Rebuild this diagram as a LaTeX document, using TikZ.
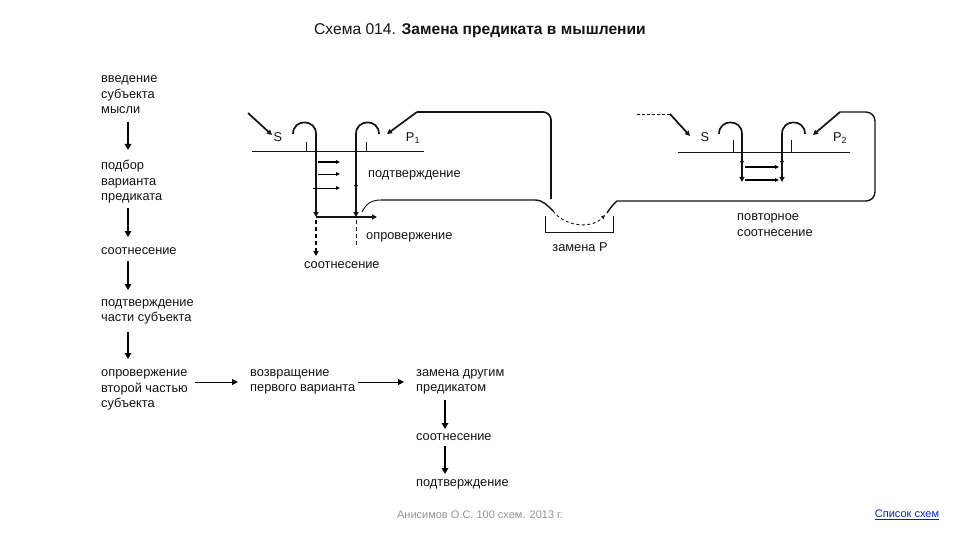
\documentclass[tikz,border=0pt]{standalone}
\usepackage{fontspec}
\setmainfont{Liberation Sans}
\usetikzlibrary{arrows.meta}
\definecolor{ink}{RGB}{20,20,20}
\definecolor{foot}{RGB}{150,150,150}
\definecolor{linkc}{RGB}{0,40,190}
\begin{document}
\begin{tikzpicture}[x=1pt,y=-1pt,
  txt/.style={anchor=west,align=left,inner sep=0pt,text=ink,font=\fontsize{12.8}{15.5}\selectfont},
  ctxt/.style={anchor=center,align=center,inner sep=0pt,text=ink,font=\fontsize{12.8}{15.5}\selectfont},
  tip/.style={-{Triangle[length=5pt,width=5pt]}},
  smalltip/.style={-{Triangle[length=4pt,width=3.5pt]}},
  colarrow/.style={line width=2.2pt,-{Triangle[length=6pt,width=6.5pt]}},
  rowarrow/.style={line width=1pt,-{Triangle[length=6pt,width=6pt]}},
  heavy/.style={line width=1.7pt,ink},
  medium/.style={line width=1.4pt,ink},
  light/.style={line width=0.9pt,ink},
]
\useasboundingbox[fill=white] (0,0) rectangle (960,540);

% ---------- title
\node[inner sep=0pt,text=ink,font=\fontsize{15.6}{18}\selectfont] (title) at (480,31)
  {Схема 014. \textbf{Замена предиката в мышлении}};

% ---------- left column
\node[txt] (n1) at (101,95) {введение\\субъекта\\мысли};
\node[txt] (n2) at (101,182) {подбор\\варианта\\предиката};
\node[txt] (n3) at (101,251) {соотнесение};
\node[txt] (n4) at (101,312) {подтверждение\\части субъекта};
\node[txt] (n5) at (101,390) {опровержение\\второй частью\\субъекта};
\node[txt] (n6) at (250,382) {возвращение\\первого варианта};
\node[txt] (n7) at (416,382) {замена другим\\предикатом};
\node[txt] (n8) at (416,437) {соотнесение};
\node[txt] (n9) at (416,484) {подтверждение};

\coordinate (c1a) at (128,122); \coordinate (c1b) at (128,150);
\coordinate (c2a) at (128,208); \coordinate (c2b) at (128,237);
\coordinate (c3a) at (128,261); \coordinate (c3b) at (128,290);
\coordinate (c4a) at (128,332); \coordinate (c4b) at (128,359);
\coordinate (r1a) at (195,382); \coordinate (r1b) at (238,382);
\coordinate (r2a) at (358,382); \coordinate (r2b) at (404,382);
\coordinate (c5a) at (445,400); \coordinate (c5b) at (445,429);
\coordinate (c6a) at (445,446); \coordinate (c6b) at (445,474);
\draw[colarrow] (c1a) -- (c1b);
\draw[colarrow] (c2a) -- (c2b);
\draw[colarrow] (c3a) -- (c3b);
\draw[colarrow] (c4a) -- (c4b);
\draw[rowarrow] (r1a) -- (r1b);
\draw[rowarrow] (r2a) -- (r2b);
\draw[colarrow] (c5a) -- (c5b);
\draw[colarrow] (c6a) -- (c6b);

% ---------- first S - P1 structure
\node[ctxt] (s1) at (278,137) {S};
\node[ctxt] (p1) at (413,138) {P\textsubscript{1}};
\coordinate (b1l) at (252,151); \coordinate (b1r) at (424,151);
\draw[light] (b1l) -- (b1r);
\coordinate (d1a) at (248,113); \coordinate (d1b) at (272,135);
\draw[heavy,tip] (d1a) -- (d1b);
% hook S
\draw[heavy,tip] (293,134) .. controls (293,118.5) and (316,118.5) .. (316,134) -- (316,217);
\draw[light] (306,142) -- (306,151);
% hook P1
\draw[heavy,tip] (379,134) .. controls (379,118.5) and (356,118.5) .. (356,134) -- (356,217);
\draw[light] (366,142) -- (366,151);
\draw[light,smalltip] (356,181) -- (356,189);
% small arrows
\draw[line width=1.6pt,smalltip] (318,162) -- (340,162);
\draw[line width=0.9pt,smalltip] (318,174) -- (340,174);
\draw[line width=0.9pt,smalltip] (313,188) -- (340,188);
% confirmation/refutation
\draw[heavy,tip] (316,217) -- (377,217);
\draw[line width=1.5pt,dashed,dash pattern=on 4pt off 3pt,tip] (316,220) -- (316,256);
\draw[light,dashed,dash pattern=on 4pt off 3pt] (356,220) -- (356,246);
% input arrow P1 + top loop
\coordinate (t1) at (417,112);
\draw[heavy,tip] (t1) -- (387,134);
\draw[heavy,rounded corners=8pt] (t1) -- (551,112) -- (551,199);
% big loop bottom
\draw[light] (362,212) .. controls (366,204) and (371,200) .. (381,200);
\draw[medium] (381,200) -- (535,200)
   .. controls (543,200) and (548,206) .. (553,211);
\draw[light,dashed,dash pattern=on 3pt off 2.5pt,smalltip] (553,211) .. controls (565,227) and (592,229) .. (605,215);
\draw[medium,rounded corners=9pt] (607,213) .. controls (612,205) and (617,201) .. (626,201) -- (875,201) -- (875,112) -- (840,112);
\draw[heavy,tip] (840,112) -- (813,135);
% bracket
\draw[light] (545,216) -- (545,232) -- (613,232) -- (613,216);

\node[txt] (t2) at (368,175) {подтверждение};
\node[txt] (t3) at (366,237) {опровержение};
\node[txt] (t4) at (304,265) {соотнесение};
\node[ctxt] (t5) at (580,247) {замена P};
\node[txt] (t6) at (737,225) {повторное\\соотнесение};

% ---------- second S - P2 structure
\node[ctxt] (s2) at (705,137) {S};
\node[ctxt] (p2) at (840,138) {P\textsubscript{2}};
\draw[light] (678,152) -- (850,152);
\draw[light,dashed,dash pattern=on 3pt off 2pt] (637,114) -- (670,114);
\draw[heavy,tip] (670,114) -- (690,136);
\draw[heavy,tip] (719,134) .. controls (719,118.5) and (742,118.5) .. (742,134) -- (742,182);
\draw[light] (733,140) -- (733,152);
\draw[heavy,tip] (805,134) .. controls (805,118.5) and (782,118.5) .. (782,134) -- (782,182);
\draw[light] (791,140) -- (791,152);
\draw[light,smalltip] (742,158) -- (742,165);
\draw[light,smalltip] (782,158) -- (782,165);
\draw[line width=1.6pt,smalltip] (745,167) -- (779,167);
\draw[line width=1.6pt,smalltip] (745,180) -- (779,180);

% ---------- footer
\node[inner sep=0pt,text=foot,font=\fontsize{11}{13}\selectfont] (f1) at (480,515)
  {Анисимов О.С. 100 схем. 2013 г.};
\node[inner sep=0pt,text=linkc,font=\fontsize{11}{13}\selectfont] (f2) at (907,515)
  {\underline{Список схем}};
\end{tikzpicture}
\end{document}
